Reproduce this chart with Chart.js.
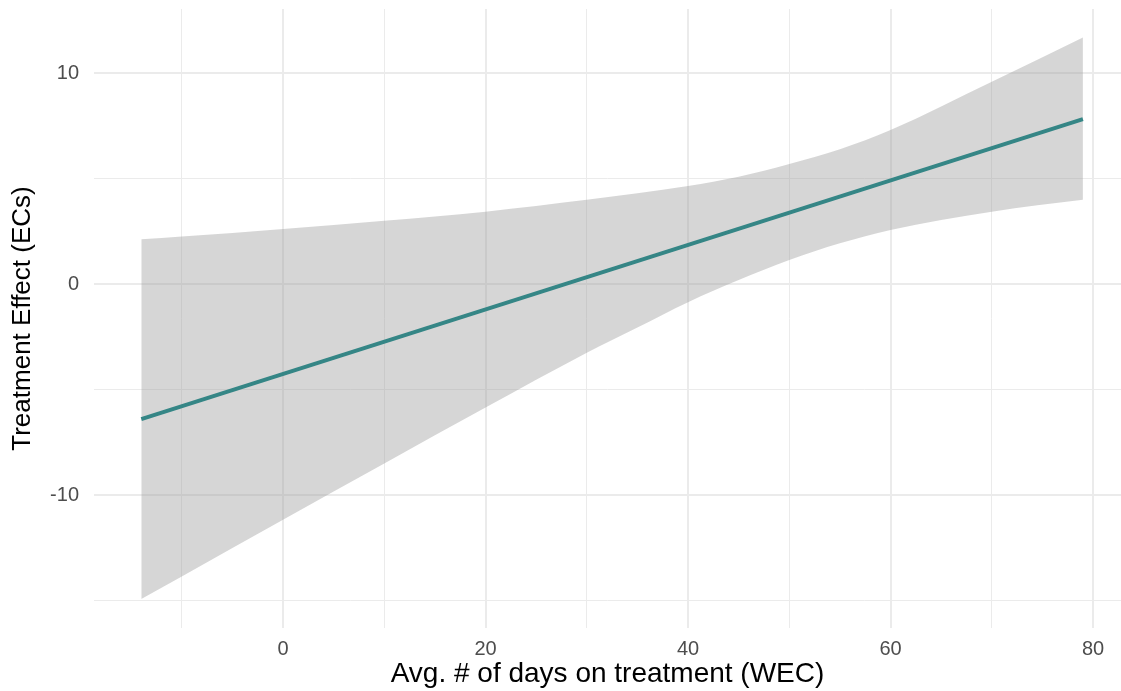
<!DOCTYPE html>
<html>
<head>
<meta charset="utf-8">
<script src="https://cdn.jsdelivr.net/npm/chart.js@4.4.1/dist/chart.umd.min.js"></script>
<style>
  html, body { margin: 0; padding: 0; background: #ffffff; overflow: hidden; }
  #c { display: block; }
</style>
</head>
<body>
<canvas id="c" width="1121" height="691"></canvas>
<script>
// fitted line: Avg. # of days on treatment (WEC) -> Treatment Effect (ECs)
const lineX = [-14, 79];
const fitValues = [-6.4, 7.83];

// confidence band
const bandX = [-14, -10, 0, 10, 20, 30, 35, 40, 45, 50, 55, 60, 70, 79];
const upperValues = [2.13, 2.26, 2.62, 3.01, 3.44, 4.0, 4.31, 4.66, 5.1, 5.7, 6.4, 7.31, 9.6, 11.7];
const lowerValues = [-14.93, -13.86, -11.17, -8.5, -5.85, -3.25, -2.05, -0.85, 0.2, 1.15, 1.94, 2.57, 3.44, 4.0];

const xTicks = [-10, 0, 10, 20, 30, 40, 50, 60, 70, 80];
const xLabeled = [0, 20, 40, 60, 80];
const yTicks = [-15, -10, -5, 0, 5, 10];
const yLabeled = [-10, 0, 10];

const xTitle = 'Avg. # of days on treatment (WEC)';
const yTitle = 'Treatment Effect (ECs)';

const toPts = (xs, ys) => xs.map((x, i) => ({ x: x, y: ys[i] }));

const GRID = '#ebebeb';
const TICK = '#4d4d4d';
const FONT = "'Liberation Sans', Arial, Helvetica, sans-serif";

new Chart(document.getElementById('c'), {
  type: 'line',
  data: {
    datasets: [
      {
        label: 'fit',
        data: toPts(lineX, fitValues),
        borderColor: '#358686',
        borderWidth: 4,
        pointRadius: 0,
        fill: false,
        order: 0
      },
      {
        label: 'upper',
        data: toPts(bandX, upperValues),
        borderWidth: 0,
        borderColor: 'rgba(0,0,0,0)',
        backgroundColor: 'rgba(153,153,153,0.4)',
        pointRadius: 0,
        cubicInterpolationMode: 'monotone',
        fill: '+1',
        order: 1
      },
      {
        label: 'lower',
        data: toPts(bandX, lowerValues),
        borderWidth: 0,
        borderColor: 'rgba(0,0,0,0)',
        pointRadius: 0,
        cubicInterpolationMode: 'monotone',
        fill: false,
        order: 2
      }
    ]
  },
  options: {
    responsive: false,
    animation: false,
    devicePixelRatio: 1,
    layout: { padding: { top: 9, left: 0, right: 0, bottom: 0 } },
    plugins: { legend: { display: false }, tooltip: { enabled: false } },
    scales: {
      x: {
        type: 'linear',
        min: -18.67,
        max: 82.76,
        afterBuildTicks: (s) => { s.ticks = xTicks.map(v => ({ value: v })); },
        afterFit: (s) => { s.height = 63; s.paddingLeft = 0; s.paddingRight = 0; },
        border: { display: false },
        grid: {
          color: GRID,
          drawTicks: false,
          lineWidth: (ctx) => (ctx.tick && xLabeled.includes(ctx.tick.value)) ? 2 : 1
        },
        ticks: {
          color: TICK,
          padding: 9,
          maxRotation: 0,
          autoSkip: false,
          font: { family: FONT, size: 20 },
          callback: (v) => xLabeled.includes(v) ? String(v) : ''
        },
        title: {
          display: true,
          text: xTitle,
          color: '#000000',
          font: { family: FONT, size: 28 },
          padding: { top: 0, bottom: 0 }
        }
      },
      y: {
        type: 'linear',
        min: -16.3,
        max: 13.05,
        afterBuildTicks: (s) => { s.ticks = yTicks.map(v => ({ value: v })); },
        afterFit: (s) => { s.width = 94; s.paddingTop = 0; s.paddingBottom = 0; },
        border: { display: false },
        grid: {
          color: GRID,
          drawTicks: false,
          lineWidth: (ctx) => (ctx.tick && yLabeled.includes(ctx.tick.value)) ? 2 : 1
        },
        ticks: {
          color: TICK,
          padding: 15,
          autoSkip: false,
          font: { family: FONT, size: 20 },
          callback: (v) => yLabeled.includes(v) ? String(v) : ''
        },
        title: {
          display: true,
          text: yTitle,
          color: '#000000',
          font: { family: FONT, size: 26 },
          padding: { top: 7, bottom: 0 }
        }
      }
    }
  }
});
</script>
</body>
</html>
